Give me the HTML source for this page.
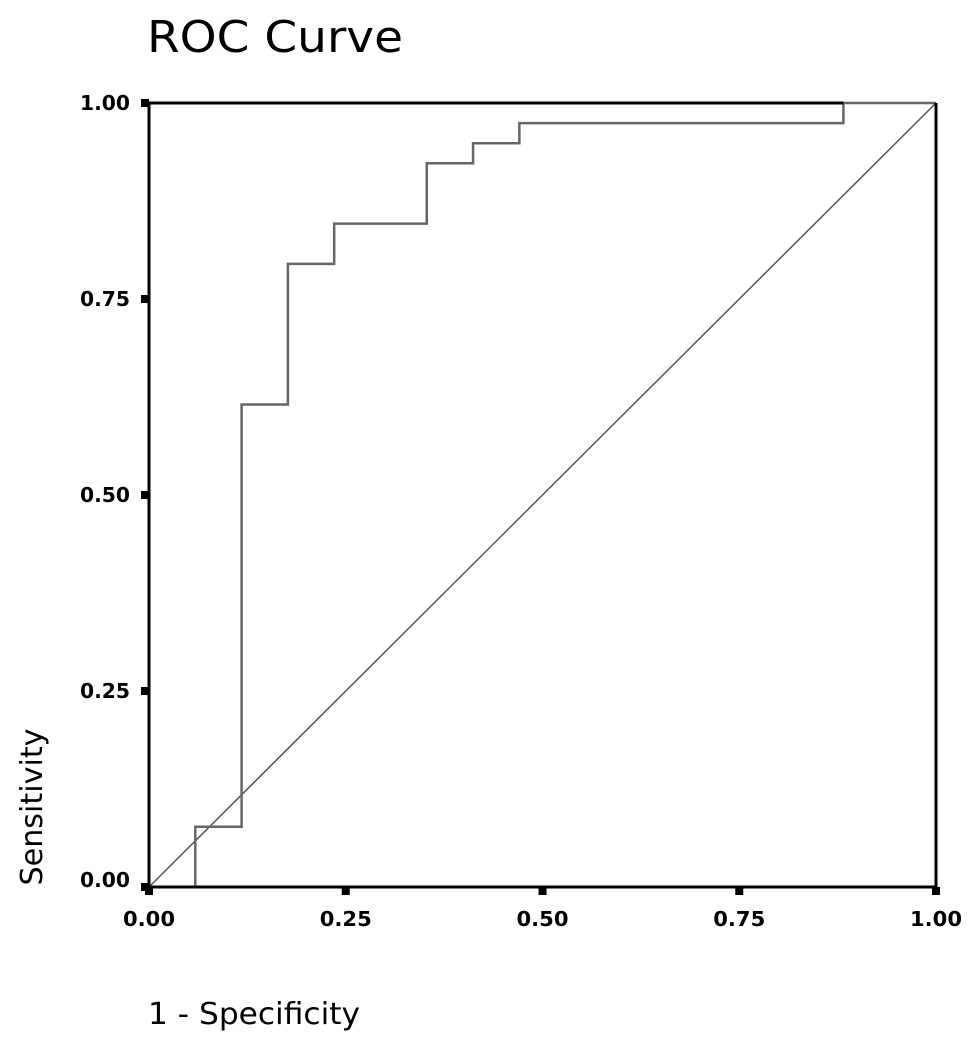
<!DOCTYPE html>
<html><head><meta charset="utf-8"><style>
body{margin:0;background:#fff;}
svg{display:block;}
text{font-family:"DejaVu Sans","Liberation Sans",sans-serif;fill:#000;}
</style></head><body>
<svg width="969" height="1045" viewBox="0 0 969 1045">
<text x="147" y="52" font-size="44" textLength="256" lengthAdjust="spacingAndGlyphs">ROC Curve</text>
<g id="marks"></g>
<g id="axes"></g>
<text transform="translate(42,807) rotate(-90)" text-anchor="middle" font-size="30" textLength="157" lengthAdjust="spacingAndGlyphs">Sensitivity</text>
<text x="148" y="1024" font-size="30" textLength="212" lengthAdjust="spacingAndGlyphs">1 - Specificity</text>
</svg>
<script>
const rocFpr = [0, 1/17, 1/17, 2/17, 2/17, 3/17, 3/17, 4/17, 4/17, 6/17, 6/17, 7/17, 7/17, 8/17, 8/17, 15/17, 15/17, 1];
const rocTpr = [0, 0, 3/39, 3/39, 24/39, 24/39, 31/39, 31/39, 33/39, 33/39, 36/39, 36/39, 37/39, 37/39, 38/39, 38/39, 1, 1];
const tickValues = [0, 0.25, 0.5, 0.75, 1];
const tickLabels = ["0.00", "0.25", "0.50", "0.75", "1.00"];

const X0 = 149, X1 = 936, Y0 = 887, Y1 = 103;
const sx = v => X0 + v * (X1 - X0);
const sy = v => Y0 - v * (Y0 - Y1);
const NS = "http://www.w3.org/2000/svg";
const axes = document.getElementById('axes');
const marks = document.getElementById('marks');
function mk(tag, attrs, parent){const e=document.createElementNS(NS,tag);for(const k in attrs)e.setAttribute(k,attrs[k]);parent.appendChild(e);return e;}

const diag = mk('line',{x1:sx(0),y1:sy(0),x2:sx(1),y2:sy(1),stroke:'#555','stroke-width':1.5},marks);



let d = '';
rocFpr.forEach((v,i)=>{ d += (i?'L':'M') + sx(v) + ' ' + sy(rocTpr[i]) + ' '; });
const curve = mk('path',{d:d,fill:'none',stroke:'#666','stroke-width':2.5},marks);



const frame = mk('path',{d:`M${X0} ${Y0} V${Y1} M${X0} ${Y0} H${X1} V${Y1}`,fill:'none',stroke:'#000','stroke-width':3},axes);


const topEdge = mk('line',{x1:X0,y1:Y1,x2:sx(15/17),y2:Y1,stroke:'#000','stroke-width':3},axes);



tickValues.forEach((v,i)=>{
  const ty = mk('rect',{x:X0-8,y:sy(v)-4,width:8,height:8,fill:'#000'},axes);
  
  
  const ly = mk('text',{x:130,y:sy(v)+(v===0?0:7),'text-anchor':'end','font-size':20,'font-weight':'bold',textLength:50,lengthAdjust:'spacingAndGlyphs'},axes);
  ly.textContent = tickLabels[i];
  
  
  const tx = mk('rect',{x:sx(v)-4,y:Y0,width:8,height:8,fill:'#000'},axes);
  
  
  const lx = mk('text',{x:sx(v),y:926,'text-anchor':'middle','font-size':20,'font-weight':'bold',textLength:52,lengthAdjust:'spacingAndGlyphs'},axes);
  lx.textContent = tickLabels[i];
  
  
});
</script>
</body></html>
